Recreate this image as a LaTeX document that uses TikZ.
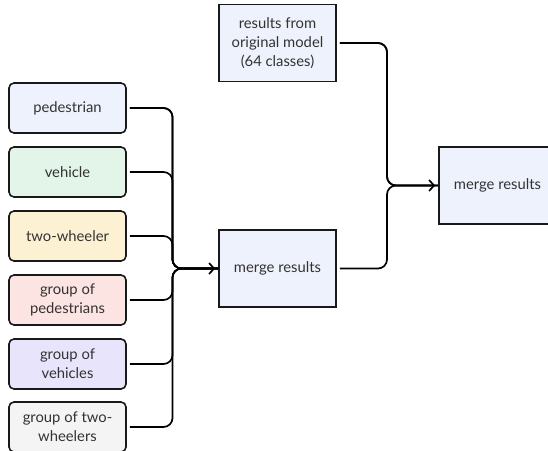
\documentclass[tikz,border=0pt]{standalone}
\usepackage{fontspec}
\setmainfont{Lato}
\usetikzlibrary{arrows.meta}
\definecolor{cblue}{HTML}{EEF2FC}
\definecolor{cgreen}{HTML}{E3F4E9}
\definecolor{cyellow}{HTML}{FDF1D4}
\definecolor{cpink}{HTML}{FBE4E1}
\definecolor{cviolet}{HTML}{E7E4FC}
\definecolor{cgray}{HTML}{F4F4F4}
\definecolor{ctext}{HTML}{333333}
\tikzset{
  catbox/.style={draw=black!90, line width=1.6pt, rounded corners=5pt, minimum width=117pt, minimum height=50pt, align=center, text=ctext, font=\fontsize{14.8}{19}\selectfont, inner sep=2pt},
  procbox/.style={draw=black!90, line width=1.6pt, fill=cblue, minimum width=117pt, minimum height=77pt, align=center, text=ctext, font=\fontsize{14.8}{19}\selectfont, inner sep=2pt},
  link/.style={line width=1.7pt, rounded corners=9pt, shorten <=3pt},
  linkarrow/.style={link, -{Straight Barb[length=5pt,width=11pt,line width=1.7pt]}, shorten >=3pt}
}
\begin{document}
\begin{tikzpicture}[x=1pt,y=-1pt]
\clip (0,0) rectangle (548,450);
\useasboundingbox (0,0) rectangle (548,450);
\node[catbox, fill=cblue]   (ped)  at (67.5,108) {pedestrian};
\node[catbox, fill=cgreen]  (veh)  at (67.5,172) {vehicle};
\node[catbox, fill=cyellow] (two)  at (67.5,236) {two-wheeler};
\node[catbox, fill=cpink]   (gped) at (67.5,300) {group of\\pedestrians};
\node[catbox, fill=cviolet] (gveh) at (67.5,364) {group of\\vehicles};
\node[catbox, fill=cgray]   (gtwo) at (67.5,427) {group of two-\\wheelers};
\node[procbox] (orig)   at (277.5,43) {results from\\original model\\(64 classes)};
\node[procbox] (merge1) at (277.5,268.5) {merge results};
\node[procbox] (merge2) at (497.5,185.5) {merge results};
\coordinate (bus1) at (172.5,268.5);
\coordinate (bus2) at (387,185.5);
\foreach \n in {ped,veh,two,gped,gveh,gtwo}{
  \draw[link] (\n.east) -- (\n.east -| bus1) -- (bus1) -- (merge1.west);
}
\draw[linkarrow] (ped.east) -- (ped.east -| bus1) -- (bus1) -- (merge1.west);
\draw[link] (orig.east) -- (orig.east -| bus2) -- (bus2) -- (merge2.west);
\draw[link] (merge1.east) -- (merge1.east -| bus2) -- (bus2) -- (merge2.west);
\draw[linkarrow] (orig.east) -- (orig.east -| bus2) -- (bus2) -- (merge2.west);
\end{tikzpicture}
\end{document}
